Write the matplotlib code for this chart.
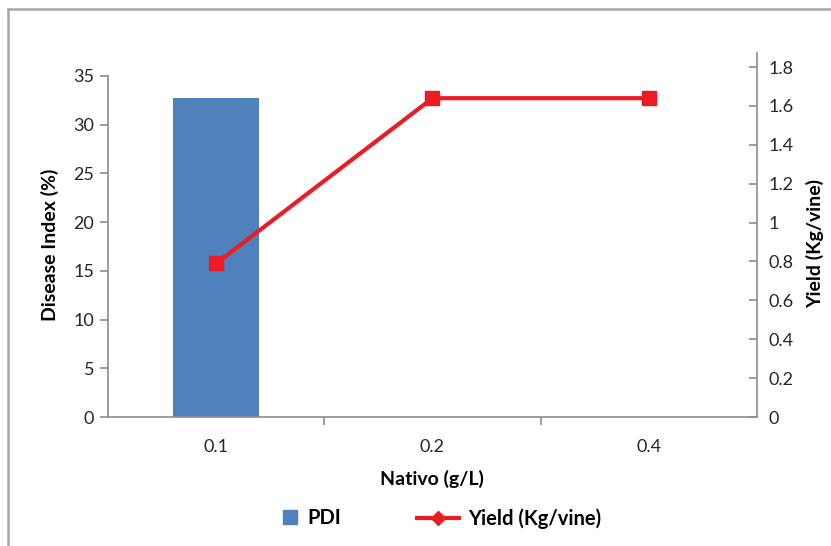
import numpy as np
import matplotlib
matplotlib.use("Agg")
import matplotlib.pyplot as plt
from matplotlib.lines import Line2D

plt.rcParams['font.family'] = ['Lato', 'DejaVu Sans']

# Nativo doses and measured responses
doses = ['0.1', '0.2', '0.4']
pdi = [32.7, 0, 0]            # disease index (%)
yield_kg = [0.79, 1.64, 1.64]  # yield (Kg/vine)

bar_color = '#4F81BD'
line_color = '#ED1C24'
axis_color = '#8C8C8C'
text_color = '#262626'

fig = plt.figure(figsize=(8.31, 5.46), dpi=100)
W, H = 831, 546

def box(l, t, r, b):
    return [l / W, 1 - b / H, (r - l) / W, (b - t) / H]

ax = fig.add_axes(box(108, 76, 757, 417))
ax2 = fig.add_axes(box(108, 53, 757, 417), sharex=ax)
ax2.patch.set_visible(False)

x = np.arange(len(doses))
ax.bar(x, pdi, width=0.4, color=bar_color, zorder=2)
ax.set_xlim(-0.5, 2.5)
ax.set_ylim(0, 35)
ax.set_yticks(np.arange(0, 36, 5))

for s in ['top', 'right']:
    ax.spines[s].set_visible(False)
for s in ['left', 'bottom']:
    ax.spines[s].set_color(axis_color)
    ax.spines[s].set_linewidth(1.2)

ax.set_xticks(x)
ax.set_xticklabels(doses)
ax.tick_params(axis='x', length=0, pad=16, labelsize=13, labelcolor=text_color)
ax.set_xticks([0.5, 1.5], minor=True)
ax.tick_params(axis='x', which='minor', length=6, direction='out', color=axis_color, width=1.2)
ax.tick_params(axis='y', length=6, direction='out', color=axis_color, width=1.2,
               labelsize=13, labelcolor=text_color, pad=4)

# secondary axis for yield
ax2.plot(x, yield_kg, color=line_color, lw=3, marker='s', markersize=10, zorder=3)
ax2.set_ylim(0, 364 / 194.4)
ax2.set_yticks(np.arange(0, 1.81, 0.2))
ax2.set_yticklabels(['0', '0.2', '0.4', '0.6', '0.8', '1', '1.2', '1.4', '1.6', '1.8'])
for s in ['top', 'left', 'bottom']:
    ax2.spines[s].set_visible(False)
ax2.spines['right'].set_color(axis_color)
ax2.spines['right'].set_linewidth(1.2)
ax2.yaxis.tick_right()
ax2.tick_params(axis='y', length=6, direction='in', color=axis_color, width=1.2,
                labelsize=13, labelcolor=text_color, pad=8)
ax2.tick_params(axis='x', which='both', length=0, labelbottom=False)

fig.text(50 / W, 1 - 245 / H, 'Disease Index (%)', rotation=90, ha='center', va='center',
         fontsize=14, fontweight='bold', color='black')
fig.text(815 / W, 1 - 243 / H, 'Yield (Kg/vine)', rotation=90, ha='center', va='center',
         fontsize=14, fontweight='bold', color='black')
fig.text(432 / W, 1 - 479 / H, 'Nativo (g/L)', ha='center', va='center',
         fontsize=14, fontweight='bold', color='black')

# legend
pdi_handle = Line2D([], [], color=bar_color, marker='s', linestyle='none', markersize=10)
yield_handle = Line2D([], [], color=line_color, lw=3, marker='D', markersize=7)
fig.legend([pdi_handle], ['PDI'], loc='center left', bbox_to_anchor=(263 / W, 1 - 518 / H),
           frameon=False, handlelength=0.9, handletextpad=0.4,
           prop={'size': 14.5, 'weight': 'bold'})
fig.legend([yield_handle], ['Yield (Kg/vine)'], loc='center left',
           bbox_to_anchor=(399 / W, 1 - 519 / H), frameon=False, handlelength=2.1,
           handletextpad=0.45, prop={'size': 14.5, 'weight': 'bold'})

# outer chart border
fig.add_artist(Line2D([8 / W, 8 / W], [0, 1 - 9 / H], color='#A6A6A6', lw=1.8))
fig.add_artist(Line2D([8 / W, 1], [1 - 9 / H, 1 - 9 / H], color='#A6A6A6', lw=1.8))

fig.savefig('out.png', dpi=100, facecolor='white')
